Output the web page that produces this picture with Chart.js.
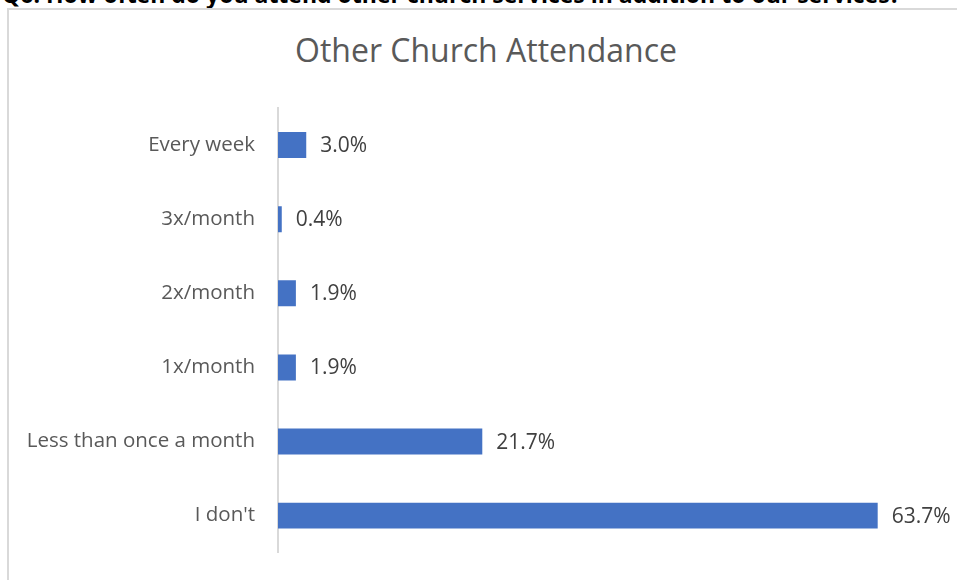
<!DOCTYPE html>
<html>
<head>
<meta charset="utf-8">
<script src="https://cdn.jsdelivr.net/npm/chart.js@4.4.1/dist/chart.umd.min.js"></script>
<style>
  html, body { margin: 0; padding: 0; background: #fff; overflow: hidden; }
  body { width: 957px; height: 580px; position: relative; font-family: 'Open Sans', sans-serif; }
  #question {
    position: absolute; left: 2px; top: -22px; white-space: nowrap;
    font: bold 23px 'Open Sans', sans-serif; color: #000;
  }
  #frame {
    position: absolute; left: 7px; top: 8px; width: 970px; height: 590px;
    border: 2px solid #d9d9d9; box-sizing: border-box; background: #fff;
  }
  #title {
    position: absolute; left: 0; width: 972px; top: 28px; text-align: center;
    font: 32px 'Open Sans', sans-serif; color: #595959;
  }
  #chart { position: absolute; left: 0; top: 0; }
</style>
</head>
<body>
<div id="question">Q6: How often do you attend other church services in addition to our services?</div>
<div id="frame"></div>
<div id="title">Other Church Attendance</div>
<canvas id="chart" width="957" height="580"></canvas>
<script>
const categories = ['Every week', '3x/month', '2x/month', '1x/month', 'Less than once a month', "I don't"];
const attendance = [3.0, 0.4, 1.9, 1.9, 21.7, 63.7];
const xMax = 70;

const barLabels = {
  id: 'barLabels',
  afterDatasetsDraw(chart) {
    const ctx = chart.ctx;
    ctx.save();
    ctx.font = '21px "Open Sans", sans-serif';
    ctx.fillStyle = '#404040';
    ctx.textBaseline = 'middle';
    ctx.textAlign = 'left';
    chart.getDatasetMeta(0).data.forEach((bar, i) => {
      ctx.fillText(attendance[i].toFixed(1) + '%', bar.x + 14, bar.y + 1);
    });
    ctx.restore();
  }
};

new Chart(document.getElementById('chart').getContext('2d'), {
  type: 'bar',
  data: {
    labels: categories,
    datasets: [{
      data: attendance,
      backgroundColor: '#4472c4',
      borderWidth: 0,
      categoryPercentage: 1,
      barPercentage: 0.35,
    }],
  },
  options: {
    indexAxis: 'y',
    responsive: false,
    animation: false,
    layout: { padding: { top: 108, bottom: 21, right: 20, left: 0 } },
    plugins: {
      legend: { display: false },
      title: { display: false },
      tooltip: { enabled: false },
    },
    scales: {
      x: { display: false, min: 0, max: xMax },
      y: {
        grid: { display: false },
        border: { display: true, color: '#d9d9d9', width: 2 },
        afterFit: (scale) => { scale.width = 278; },
        ticks: {
          color: '#595959',
          padding: 15,
          font: { family: '"Open Sans", sans-serif', size: 20.5 },
        },
      },
    },
  },
  plugins: [barLabels],
});
</script>
</body>
</html>
